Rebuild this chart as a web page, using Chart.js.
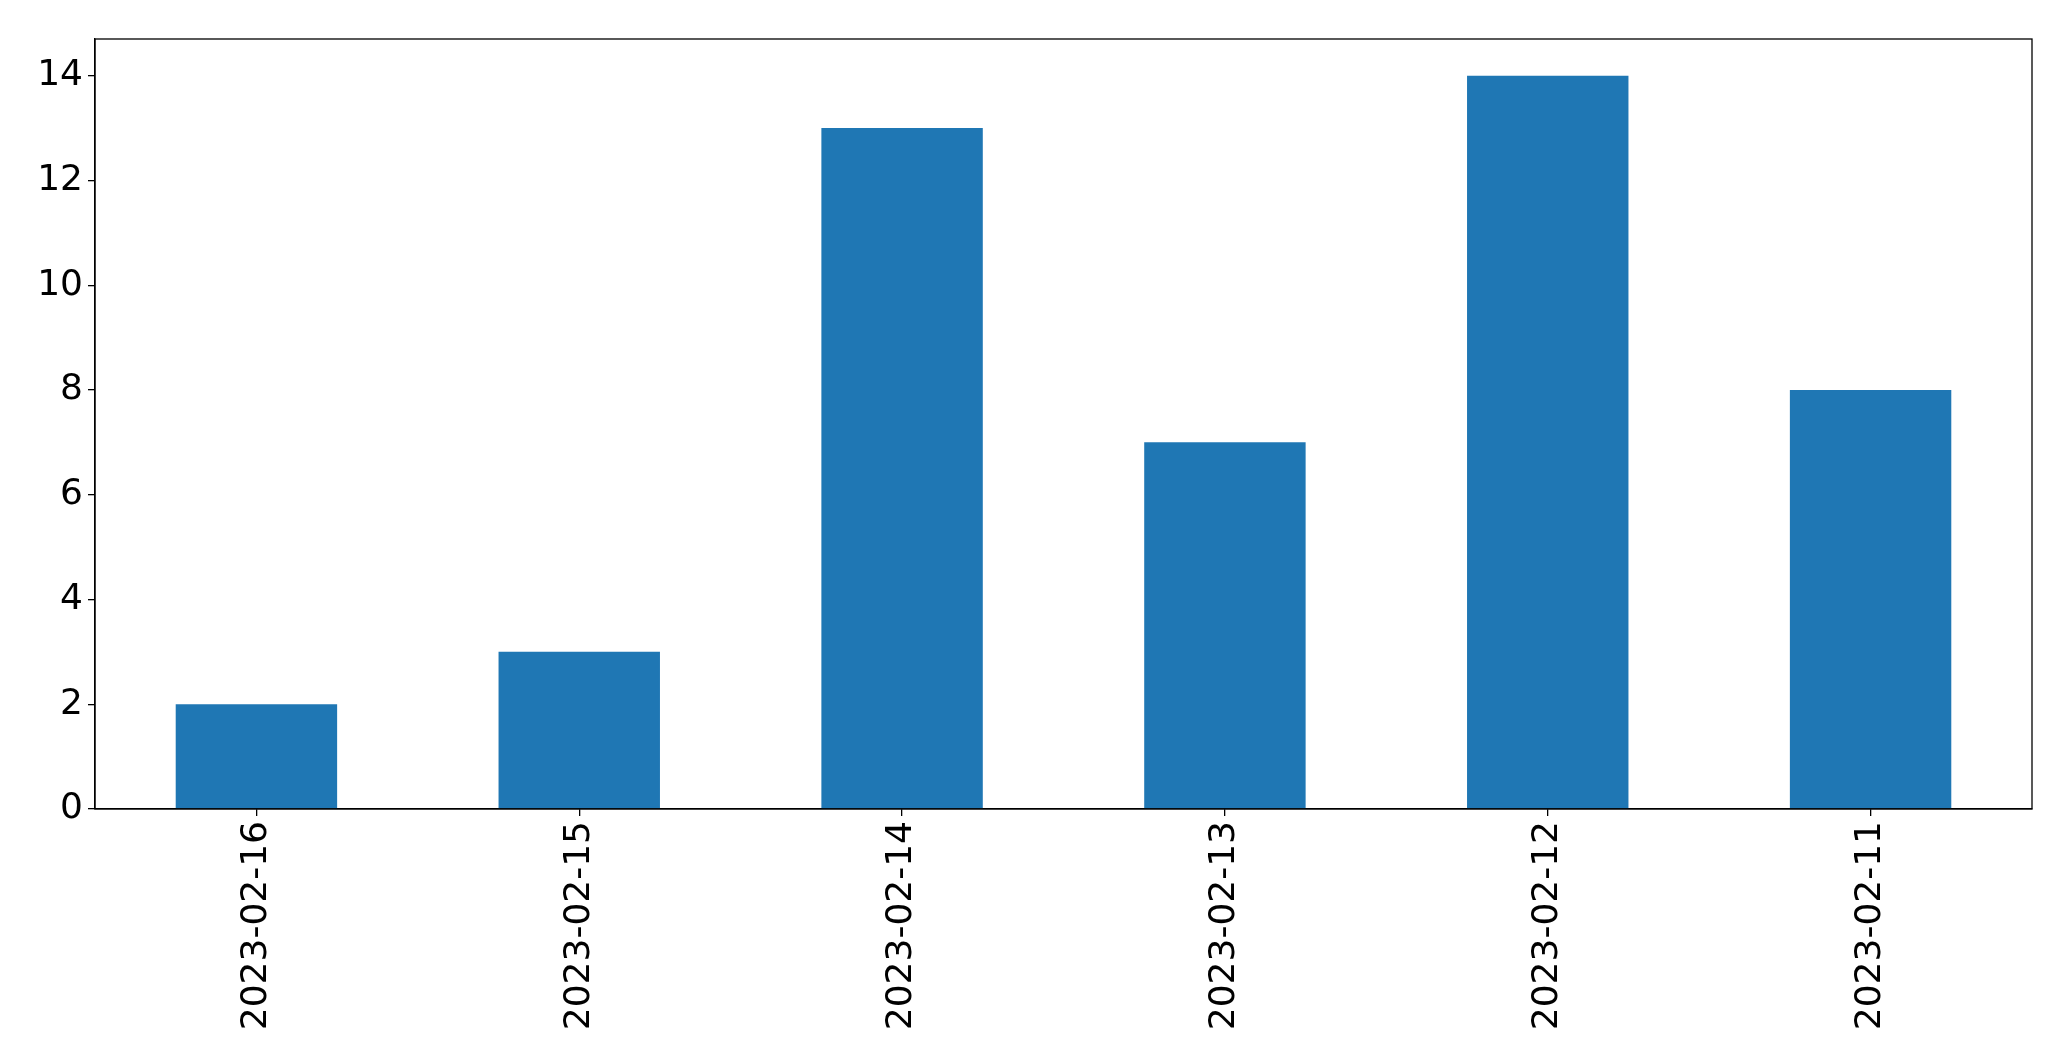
<!DOCTYPE html>
<html>
<head>
<meta charset="utf-8">
<script src="https://cdn.jsdelivr.net/npm/chart.js@4/dist/chart.umd.min.js"></script>
<style>
html,body{margin:0;padding:0;background:#fff;}
#wrap{width:2071px;height:1061px;position:relative;}
</style>
</head>
<body>
<div id="wrap"><canvas id="c" width="2071" height="1061"></canvas></div>
<script>
const categories = ["2023-02-16","2023-02-15","2023-02-14","2023-02-13","2023-02-12","2023-02-11"];
const counts = [2, 3, 13, 7, 14, 8];
const yTicks = [0, 2, 4, 6, 8, 10, 12, 14];
const yMax = 14.7;

const frame = {
  id: 'frame',
  afterDatasetsDraw(chart) {
    const a = chart.chartArea, ctx = chart.ctx;
    ctx.save();
    ctx.strokeStyle = '#000';
    ctx.lineWidth = 1.3;
    ctx.strokeRect(a.left, a.top, a.right - a.left, a.bottom - a.top);
    ctx.restore();
  }
};

new Chart(document.getElementById('c'), {
  type: 'bar',
  data: {
    labels: categories,
    datasets: [{
      data: counts,
      backgroundColor: '#1f77b4',
      borderWidth: 0,
      categoryPercentage: 1.0,
      barPercentage: 0.5
    }]
  },
  options: {
    responsive: false,
    animation: false,
    layout: { padding: { top: 39, right: 39, bottom: 0, left: 0 } },
    plugins: { legend: { display: false }, tooltip: { enabled: false } },
    scales: {
      x: {
        offset: true,
        grid: { offset: false, drawOnChartArea: false, drawTicks: true, tickLength: 7, color: '#000', lineWidth: 1.3 },
        border: { display: true, color: '#000', width: 1.3 },
        ticks: {
          maxRotation: 90, minRotation: 90, autoSkip: false,
          color: '#000', padding: 5,
          font: { family: 'DejaVu Sans', size: 36 }
        },
        afterFit(s) { s.height = 252; }
      },
      y: {
        min: 0, max: yMax,
        grid: { drawOnChartArea: false, drawTicks: true, tickLength: 7, color: '#000', lineWidth: 1.3 },
        border: { display: true, color: '#000', width: 1.3 },
        afterBuildTicks(s) { s.ticks = yTicks.map(v => ({ value: v })); },
        ticks: {
          color: '#000', padding: 5,
          font: { family: 'DejaVu Sans', size: 36 }
        },
        afterFit(s) { s.width = 95; }
      }
    }
  },
  plugins: [frame]
});
</script>
</body>
</html>
